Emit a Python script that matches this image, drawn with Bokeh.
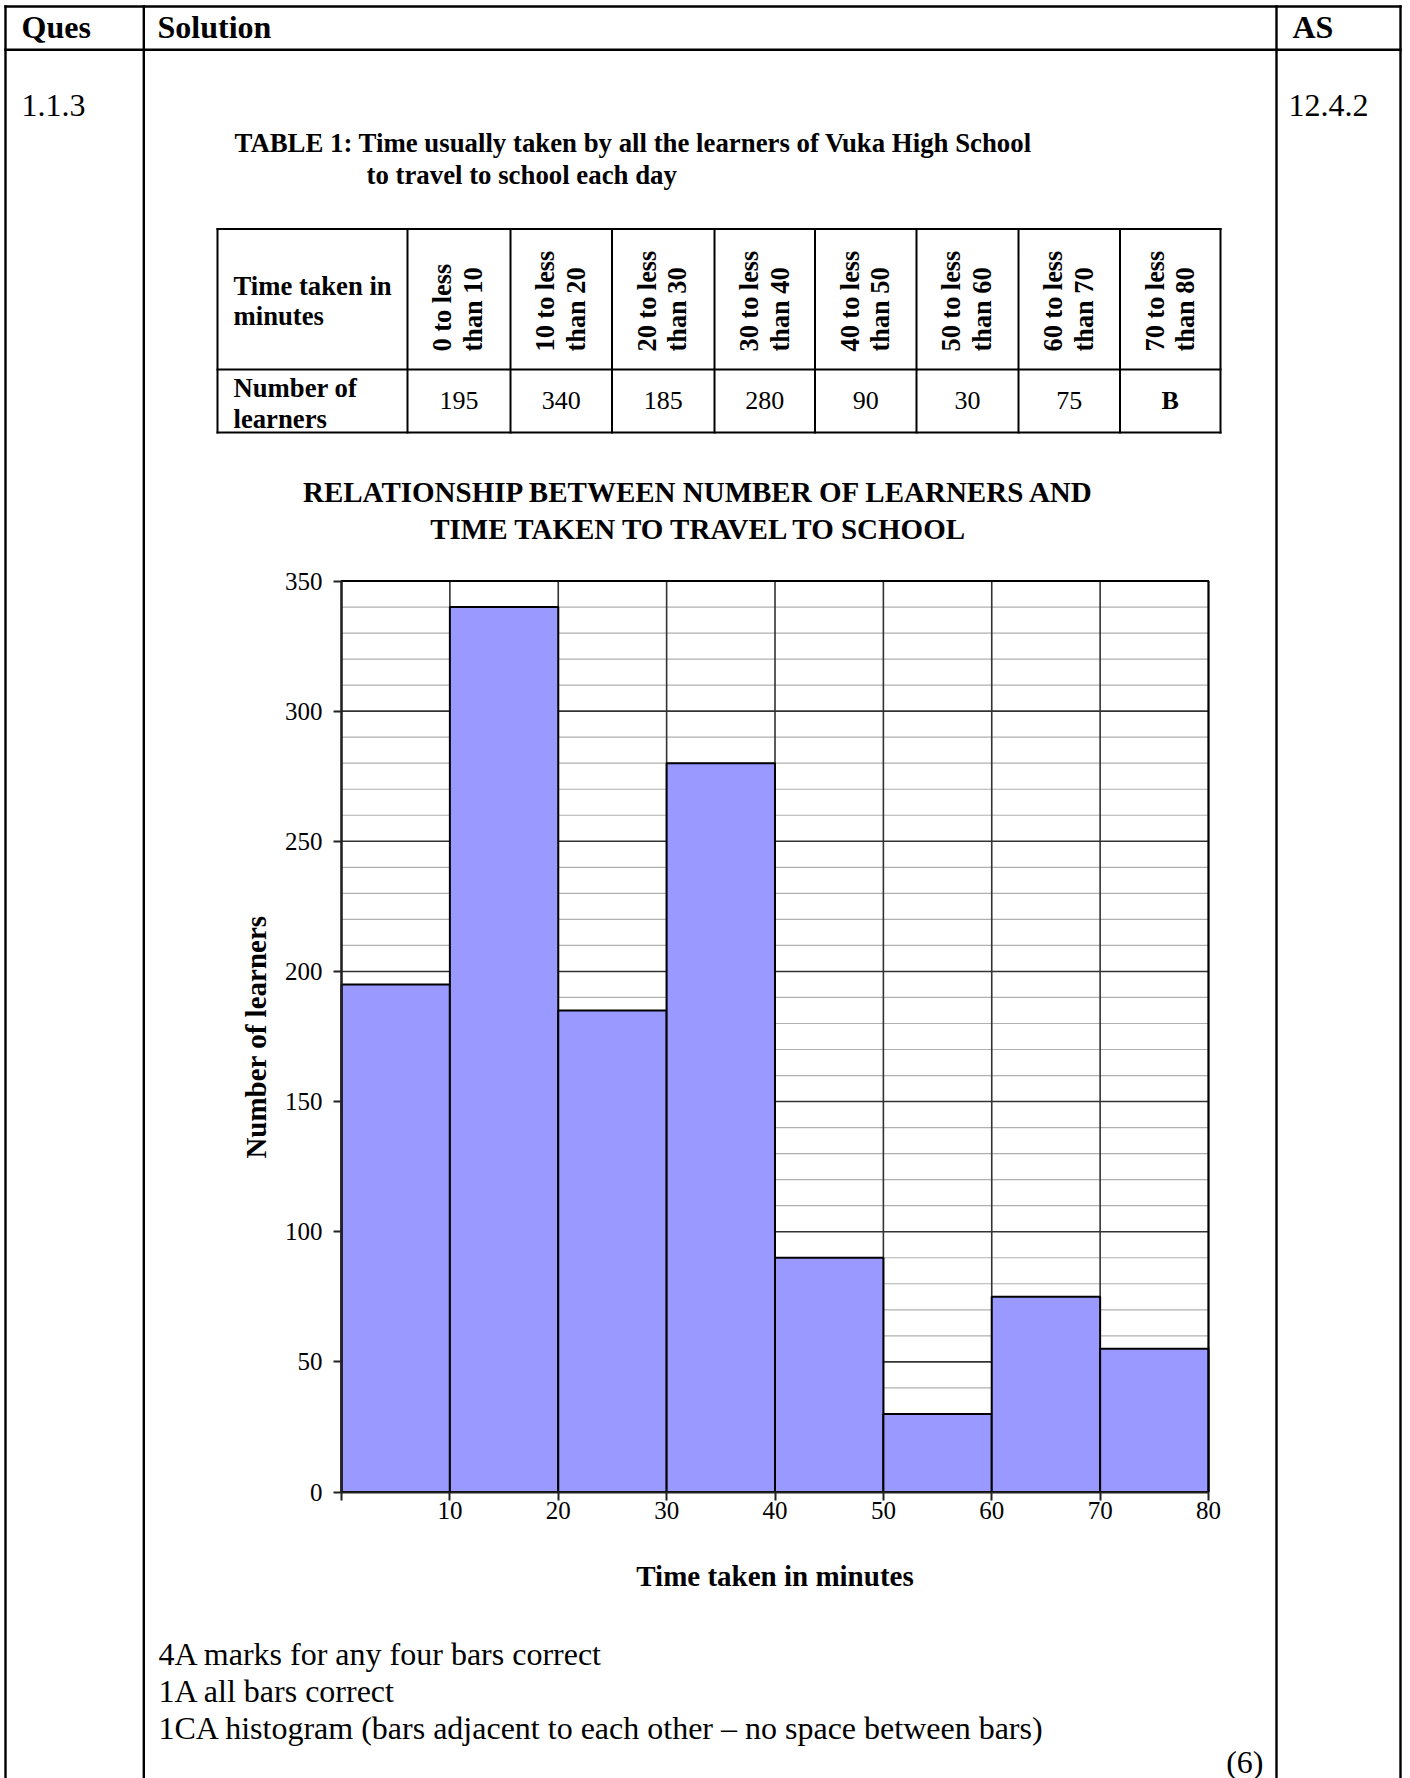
import math
from bokeh.plotting import figure
from bokeh.models import Range1d, FixedTicker, SingleIntervalTicker, LinearAxis
from bokeh.core.properties import value
from bokeh.embed import file_html
from bokeh.resources import INLINE

# ---------------- data ----------------
bin_edges = [0, 10, 20, 30, 40, 50, 60, 70, 80]
learners = [195, 340, 185, 280, 90, 30, 75, 55]
table_values = ["195", "340", "185", "280", "90", "30", "75", "B"]
y_max = 350
y_major = 50
y_minor = 10
notes = ["4A marks for any four bars correct",
         "1A all bars correct",
         "1CA histogram (bars adjacent to each other \u2013 no space between bars)"]

FONT = "Liberation Serif"

# ---------------- layout (page pixels) ----------------
W, H = 1410, 1778
FL, FR, FT, FB = 341, 1208, 580.5, 1491.5      # histogram plot area

p = figure(width=W, height=H, x_range=Range1d(0, W), y_range=Range1d(0, H),
           x_axis_location=None, y_axis_location=None,
           min_border=0, min_border_left=0, min_border_right=0,
           min_border_top=0, min_border_bottom=0,
           output_backend="svg", toolbar_location=None,
           background_fill_color="white", border_fill_color="white")
p.outline_line_color = None
p.grid.visible = False

# histogram ranges mapped onto the plot area
kx = (FR - FL) / bin_edges[-1]
ky = (FB - FT) / y_max
p.extra_x_ranges = {"hx": Range1d(-FL / kx, (W - FL) / kx)}
p.extra_y_ranges = {"hy": Range1d(-(H - FB) / ky, FB / ky)}


def Y(ry):
    return H - ry


# ---------------- histogram ----------------
ys = list(range(y_minor, y_max + 1, y_minor))
minor_y = [v for v in ys if v % y_major != 0]
major_y = [v for v in ys if v % y_major == 0]
x0, x1 = bin_edges[0], bin_edges[-1]
p.segment(x0=[x0] * len(minor_y), y0=minor_y, x1=[x1] * len(minor_y), y1=minor_y,
          line_color="#b0b0b0", line_width=1.2, x_range_name="hx", y_range_name="hy")
p.segment(x0=[x0] * len(major_y), y0=major_y, x1=[x1] * len(major_y), y1=major_y,
          line_color="#333333", line_width=1.6, x_range_name="hx", y_range_name="hy")
p.segment(x0=bin_edges[1:], y0=[0] * 8, x1=bin_edges[1:], y1=[y_max] * 8,
          line_color="#333333", line_width=1.6, x_range_name="hx", y_range_name="hy")

p.quad(left=bin_edges[:-1], right=bin_edges[1:], bottom=0, top=learners,
       fill_color="#9999FF", line_color="black", line_width=2,
       x_range_name="hx", y_range_name="hy")
p.quad(left=[x0], right=[x1], bottom=[0], top=[y_max], fill_color=None,
       line_color="black", line_width=2, x_range_name="hx", y_range_name="hy")

xaxis = LinearAxis(x_range_name="hx", y_range_name="hy", fixed_location=0,
                   bounds=(x0, x1), ticker=FixedTicker(ticks=bin_edges),
                   major_label_overrides={0: ""})
yaxis = LinearAxis(x_range_name="hx", y_range_name="hy", fixed_location=0,
                   bounds=(0, y_max),
                   ticker=SingleIntervalTicker(interval=y_major, num_minor_ticks=5))
for ax in (xaxis, yaxis):
    ax.axis_line_color = "#222222"
    ax.axis_line_width = 2
    ax.major_tick_line_color = "#222222"
    ax.major_tick_line_width = 2
    ax.major_tick_out = 8
    ax.major_tick_in = 0
    ax.minor_tick_line_color = None
    ax.major_label_text_font = FONT
    ax.major_label_text_font_size = "25px"
    ax.major_label_text_color = "black"
    ax.axis_label_text_font = FONT
    ax.axis_label_text_font_style = "bold"
    ax.axis_label_text_font_size = "29px"
    ax.axis_label_text_color = "black"
xaxis.axis_label = "Time taken in minutes"
xaxis.major_label_standoff = 2
xaxis.axis_label_standoff = 37
yaxis.axis_label = "Number of learners"
yaxis.major_label_standoff = 11
yaxis.axis_label_standoff = 10
p.add_layout(xaxis, "below")
p.add_layout(yaxis, "left")


# ---------------- decorations ----------------
def lines(segs, width):
    p.segment(x0=[s[0] for s in segs], y0=[Y(s[1]) for s in segs],
              x1=[s[2] for s in segs], y1=[Y(s[3]) for s in segs],
              line_color="black", line_width=width, line_cap="square")


def txt(rx, ry, s, size, bold=False, align="left", angle=0.0):
    # ry is the vertical centre of the text line
    p.text(x=[rx], y=[Y(ry)], text=[s], text_font=value(FONT),
           text_font_size=f"{size}px",
           text_font_style="bold" if bold else "normal",
           text_align=align, text_baseline="middle",
           angle=angle, text_color="black")


# outer answer-sheet table
L, T, R, BOT = 5, 6, 1400, 1800
outer = [(L, T, R, T), (L, 49.3, R, 49.3)]
for vx in (L, 143.3, 1276, R):
    outer.append((vx, T, vx, BOT))
lines(outer, 2.4)

txt(21, 26.5, "Ques", 32, True)
txt(157, 26.5, "Solution", 32, True)
txt(1292, 26.5, "AS", 32, True)
txt(21, 105, "1.1.3", 32)
txt(1288, 105, "12.4.2", 32)

# table title
txt(234, 142, "TABLE 1: Time usually taken by all the learners of Vuka High School", 26.8, True)
txt(366, 174, "to travel to school each day", 26.8, True)

# data table
col_x = [217, 407, 510, 611.5, 714, 814.5, 916, 1018, 1119.5, 1220]
t_top, t_mid, t_bot = 228.5, 369, 432
tbl = [(col_x[0], t_top, col_x[-1], t_top), (col_x[0], t_mid, col_x[-1], t_mid),
       (col_x[0], t_bot, col_x[-1], t_bot)]
for cx in col_x:
    tbl.append((cx, t_top, cx, t_bot))
lines(tbl, 2)

txt(233, 285, "Time taken in", 26.7, True)
txt(233, 315, "minutes", 26.7, True)
txt(233, 387, "Number of", 26.7, True)
txt(233, 418, "learners", 26.7, True)

for i in range(len(learners)):
    left = col_x[i + 1]
    right = col_x[i + 2]
    txt(left + 35, 351, f"{bin_edges[i]} to less", 26.3, True, angle=math.pi / 2)
    txt(left + 65.5, 351, f"than {bin_edges[i + 1]}", 26.3, True, angle=math.pi / 2)
    v = table_values[i]
    txt((left + right) / 2, 400, v, 26, bold=not v.isdigit(), align="center")

# chart title
txt(699, 491.5, "RELATIONSHIP BETWEEN NUMBER OF LEARNERS AND", 29.0, True, align="center")
txt(699, 528, "TIME TAKEN TO TRAVEL TO SCHOOL", 29.0, True, align="center")

# marking notes
for k, n in enumerate(notes):
    txt(158, 1653 + k * 37, n, 32)
txt(1263, 1761, "(6)", 32, align="right")

open("out.html", "w").write(file_html(p, INLINE))
